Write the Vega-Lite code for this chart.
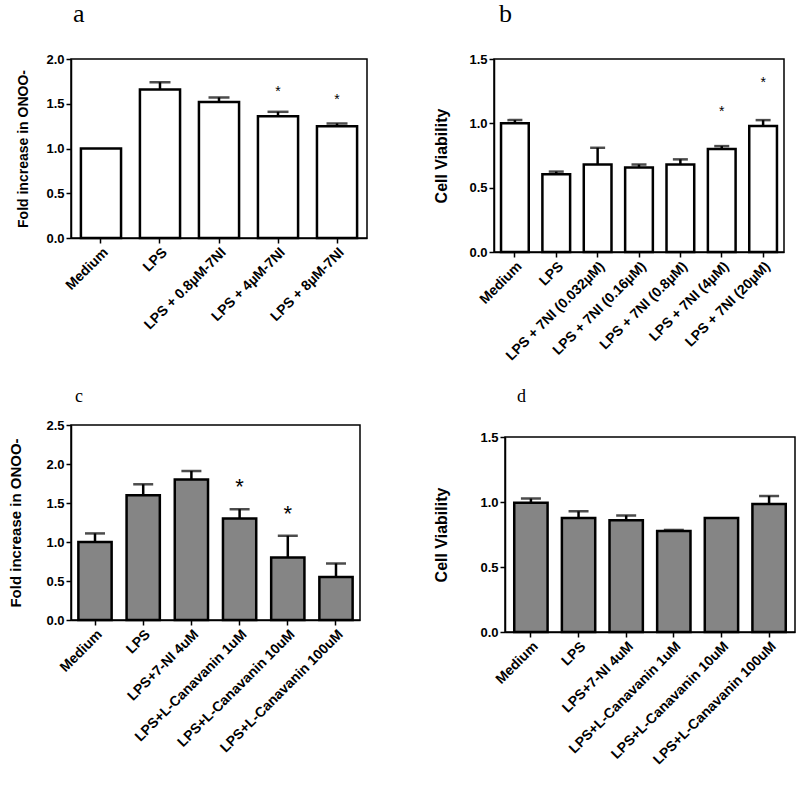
{
  "$schema": "https://vega.github.io/schema/vega-lite/v6.json",
  "padding": {"left": 8, "top": 0, "right": 0, "bottom": 0},
  "background": "white",
  "config": {
    "font": "Liberation Sans",
    "view": {"stroke": "black", "strokeWidth": 1.5},
    "axis": {"domainColor": "black", "domainWidth": 1.5, "tickColor": "black", "tickWidth": 1.5, "tickSize": 5, "labelColor": "black", "labelFont": "Liberation Sans", "labelFontWeight": "bold", "titleColor": "black", "titleFont": "Liberation Sans", "titleFontWeight": "bold", "grid": false, "labelOverlap": false},
    "axisX": {"labelAngle": -45, "labelFontSize": 14, "labelPadding": 2},
    "axisY": {"labelFontSize": 13, "labelPadding": 2},
    "text": {"font": "Liberation Sans", "color": "black"}
  },
  "datasets": {
    "a": [
      {"g": "Medium", "mean": 1.0},
      {"g": "LPS", "mean": 1.66, "upper": 1.74},
      {"g": "LPS + 0.8µM-7NI", "mean": 1.52, "upper": 1.57},
      {"g": "LPS + 4µM-7NI", "mean": 1.36, "upper": 1.41, "star": 1.67},
      {"g": "LPS + 8µM-7NI", "mean": 1.25, "upper": 1.28, "star": 1.57}
    ],
    "b": [
      {"g": "Medium", "mean": 1.0, "upper": 1.025},
      {"g": "LPS", "mean": 0.605, "upper": 0.625},
      {"g": "LPS + 7NI (0.032µM)", "mean": 0.68, "upper": 0.81},
      {"g": "LPS + 7NI (0.16µM)", "mean": 0.657, "upper": 0.68},
      {"g": "LPS + 7NI (0.8µM)", "mean": 0.68, "upper": 0.72},
      {"g": "LPS + 7NI (4µM)", "mean": 0.8, "upper": 0.823, "star": 1.11},
      {"g": "LPS + 7NI (20µM)", "mean": 0.98, "upper": 1.025, "star": 1.34}
    ],
    "c": [
      {"g": "Medium", "mean": 1.0, "upper": 1.11},
      {"g": "LPS", "mean": 1.6, "upper": 1.74},
      {"g": "LPS+7-NI 4uM", "mean": 1.8, "upper": 1.91},
      {"g": "LPS+L-Canavanin 1uM", "mean": 1.3, "upper": 1.42, "star": 1.77},
      {"g": "LPS+L-Canavanin 10uM", "mean": 0.8, "upper": 1.08, "star": 1.42},
      {"g": "LPS+L-Canavanin 100uM", "mean": 0.55, "upper": 0.725}
    ],
    "d": [
      {"g": "Medium", "mean": 0.995, "upper": 1.026},
      {"g": "LPS", "mean": 0.877, "upper": 0.928},
      {"g": "LPS+7-NI 4uM", "mean": 0.86, "upper": 0.897},
      {"g": "LPS+L-Canavanin 1uM", "mean": 0.777, "upper": 0.785},
      {"g": "LPS+L-Canavanin 10uM", "mean": 0.877},
      {"g": "LPS+L-Canavanin 100uM", "mean": 0.985, "upper": 1.046}
    ]
  },
  "columns": 2,
  "align": "none",
  "spacing": {"row": 23, "column": 65},
  "concat": [
    {
      "title": {"text": "a", "anchor": "start", "frame": "group", "dx": 2, "offset": 0, "fontSize": 26, "font": "Liberation Serif", "fontWeight": "normal", "baseline": "bottom", "color": "black"},
      "width": 296, "height": 179,
      "data": {"name": "a"},
      "encoding": {
        "x": {"field": "g", "type": "nominal", "sort": null, "scale": {"paddingInner": 0.32, "paddingOuter": 0.168}, "axis": {"title": null}}
      },
      "layer": [
        {"mark": {"type": "bar", "fill": "white", "stroke": "black", "strokeWidth": 2.5},
         "encoding": {"y": {"field": "mean", "type": "quantitative", "title": "Fold increase in ONOO-", "scale": {"domain": [0, 2], "nice": false}, "axis": {"values": [0, 0.5, 1, 1.5, 2], "format": ".1f", "titleFontSize": 14, "titlePadding": 15}}}},
        {"transform": [{"filter": "isValid(datum.upper)"}], "mark": {"type": "rule", "strokeWidth": 2.5, "color": "black"},
         "encoding": {"y": {"field": "mean", "type": "quantitative", "title": "Fold increase in ONOO-", "axis": {"values": [0, 0.5, 1, 1.5, 2], "format": ".1f", "titleFontSize": 14, "titlePadding": 15}}, "y2": {"field": "upper"}}},
        {"transform": [{"filter": "isValid(datum.upper)"}], "mark": {"type": "tick", "size": 21, "thickness": 2.5, "color": "black"},
         "encoding": {"y": {"field": "upper", "type": "quantitative", "title": "Fold increase in ONOO-", "axis": {"values": [0, 0.5, 1, 1.5, 2], "format": ".1f", "titleFontSize": 14, "titlePadding": 15}}}},
        {"transform": [{"filter": "isValid(datum.star)"}], "mark": {"type": "text", "text": "*", "fontSize": 14, "dy": 3},
         "encoding": {"y": {"field": "star", "type": "quantitative", "title": "Fold increase in ONOO-", "axis": {"values": [0, 0.5, 1, 1.5, 2], "format": ".1f", "titleFontSize": 14, "titlePadding": 15}}}}
      ]
    },
    {
      "title": {"text": "b", "anchor": "start", "frame": "group", "dx": 5, "offset": 0, "fontSize": 26, "font": "Liberation Serif", "fontWeight": "normal", "baseline": "bottom", "color": "black"},
      "width": 290, "height": 193,
      "data": {"name": "b"},
      "encoding": {
        "x": {"field": "g", "type": "nominal", "sort": null, "scale": {"paddingInner": 0.33, "paddingOuter": 0.17}, "axis": {"title": null}}
      },
      "layer": [
        {"mark": {"type": "bar", "fill": "white", "stroke": "black", "strokeWidth": 2.5},
         "encoding": {"y": {"field": "mean", "type": "quantitative", "title": "Cell Viability", "scale": {"domain": [0, 1.5], "nice": false}, "axis": {"values": [0, 0.5, 1, 1.5], "format": ".1f", "titleFontSize": 16, "titlePadding": 19}}}},
        {"transform": [{"filter": "isValid(datum.upper)"}], "mark": {"type": "rule", "strokeWidth": 2.5, "color": "black"},
         "encoding": {"y": {"field": "mean", "type": "quantitative", "title": "Cell Viability", "axis": {"values": [0, 0.5, 1, 1.5], "format": ".1f", "titleFontSize": 16, "titlePadding": 19}}, "y2": {"field": "upper"}}},
        {"transform": [{"filter": "isValid(datum.upper)"}], "mark": {"type": "tick", "size": 15, "thickness": 2.5, "color": "black"},
         "encoding": {"y": {"field": "upper", "type": "quantitative", "title": "Cell Viability", "axis": {"values": [0, 0.5, 1, 1.5], "format": ".1f", "titleFontSize": 16, "titlePadding": 19}}}},
        {"transform": [{"filter": "isValid(datum.star)"}], "mark": {"type": "text", "text": "*", "fontSize": 14, "dy": 3},
         "encoding": {"y": {"field": "star", "type": "quantitative", "title": "Cell Viability", "axis": {"values": [0, 0.5, 1, 1.5], "format": ".1f", "titleFontSize": 16, "titlePadding": 19}}}}
      ]
    },
    {
      "title": {"text": "c", "anchor": "start", "frame": "group", "dx": 4, "offset": -5, "fontSize": 18, "font": "Liberation Serif", "fontWeight": "normal", "baseline": "bottom", "color": "black"},
      "width": 289, "height": 195,
      "data": {"name": "c"},
      "encoding": {
        "x": {"field": "g", "type": "nominal", "sort": null, "scale": {"paddingInner": 0.31, "paddingOuter": 0.153}, "axis": {"title": null}}
      },
      "layer": [
        {"mark": {"type": "bar", "fill": "#858585", "stroke": "black", "strokeWidth": 2.5},
         "encoding": {"y": {"field": "mean", "type": "quantitative", "title": "Fold increase in ONOO-", "scale": {"domain": [0, 2.5], "nice": false}, "axis": {"values": [0, 0.5, 1, 1.5, 2, 2.5], "format": ".1f", "titleFontSize": 15, "titlePadding": 22}}}},
        {"transform": [{"filter": "isValid(datum.upper)"}], "mark": {"type": "rule", "strokeWidth": 2.5, "color": "black"},
         "encoding": {"y": {"field": "mean", "type": "quantitative", "title": "Fold increase in ONOO-", "axis": {"values": [0, 0.5, 1, 1.5, 2, 2.5], "format": ".1f", "titleFontSize": 15, "titlePadding": 22}}, "y2": {"field": "upper"}}},
        {"transform": [{"filter": "isValid(datum.upper)"}], "mark": {"type": "tick", "size": 20, "thickness": 2.5, "color": "black"},
         "encoding": {"y": {"field": "upper", "type": "quantitative", "title": "Fold increase in ONOO-", "axis": {"values": [0, 0.5, 1, 1.5, 2, 2.5], "format": ".1f", "titleFontSize": 15, "titlePadding": 22}}}},
        {"transform": [{"filter": "isValid(datum.star)"}], "mark": {"type": "text", "text": "*", "fontSize": 22, "dy": 5},
         "encoding": {"y": {"field": "star", "type": "quantitative", "title": "Fold increase in ONOO-", "axis": {"values": [0, 0.5, 1, 1.5, 2, 2.5], "format": ".1f", "titleFontSize": 15, "titlePadding": 22}}}}
      ]
    },
    {
      "title": {"text": "d", "anchor": "start", "frame": "group", "dx": 12, "offset": 7, "fontSize": 18, "font": "Liberation Serif", "fontWeight": "normal", "baseline": "bottom", "color": "black"},
      "width": 290, "height": 195,
      "data": {"name": "d"},
      "encoding": {
        "x": {"field": "g", "type": "nominal", "sort": null, "scale": {"paddingInner": 0.3, "paddingOuter": 0.194}, "axis": {"title": null}}
      },
      "layer": [
        {"mark": {"type": "bar", "fill": "#858585", "stroke": "black", "strokeWidth": 2.5},
         "encoding": {"y": {"field": "mean", "type": "quantitative", "title": "Cell Viability", "scale": {"domain": [0, 1.5], "nice": false}, "axis": {"values": [0, 0.5, 1, 1.5], "format": ".1f", "titleFontSize": 16, "titlePadding": 30}}}},
        {"transform": [{"filter": "isValid(datum.upper)"}], "mark": {"type": "rule", "strokeWidth": 2.5, "color": "black"},
         "encoding": {"y": {"field": "mean", "type": "quantitative", "title": "Cell Viability", "axis": {"values": [0, 0.5, 1, 1.5], "format": ".1f", "titleFontSize": 16, "titlePadding": 30}}, "y2": {"field": "upper"}}},
        {"transform": [{"filter": "isValid(datum.upper)"}], "mark": {"type": "tick", "size": 20, "thickness": 2.5, "color": "black"},
         "encoding": {"y": {"field": "upper", "type": "quantitative", "title": "Cell Viability", "axis": {"values": [0, 0.5, 1, 1.5], "format": ".1f", "titleFontSize": 16, "titlePadding": 30}}}}
      ]
    }
  ]
}
